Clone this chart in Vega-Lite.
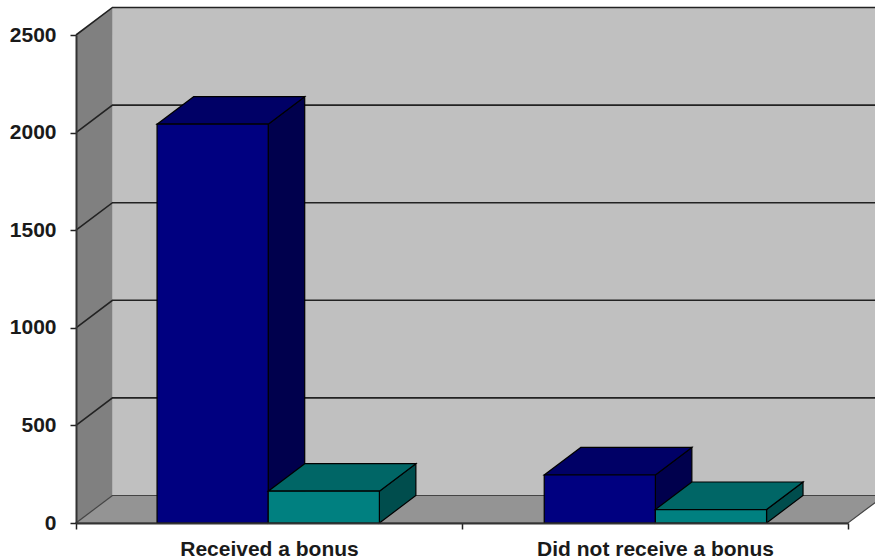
{
"$schema":"https://vega.github.io/schema/vega-lite/v6.json",
"width":772,"height":488,
"autosize":{"type":"none"},
"padding":{"left":76,"top":35,"right":27,"bottom":37},
"background":"#ffffff",
"config":{"view":{"stroke":null},"font":"Liberation Sans"},
"layer":[
{"data":{"values":[{"a":0.0945,"b":2.0945,"lo":141,"hi":2641}]},
 "mark":{"type":"rect","fill":"#c0c0c0"},
 "encoding":{
  "x":{"field":"a","type":"quantitative","scale":{"domain":[0,2]},
   "axis":{"title":null,"values":[0,0.5,1,1.5,2],"grid":false,"zindex":1,
    "labelExpr":"datum.value==0.5?'Received a bonus':datum.value==1.5?'Did not receive a bonus':''",
    "labelFont":"Liberation Sans","labelFontSize":21,"labelFontWeight":"bold","labelColor":"#1a1a1a","labelPadding":9,"labelFlush":false,"labelOverlap":false,"labelBound":false,"labelLimit":400,
    "domainColor":"#333333","domainWidth":2,"tickColor":"#222222","tickSize":6,"tickWidth":1.5,
    "tickOpacity":{"condition":{"test":"datum.value==0.5||datum.value==1.5","value":0},"value":1}}},
  "x2":{"field":"b"},
  "y":{"field":"lo","type":"quantitative","scale":{"domain":[0,2500]},
   "axis":{"title":null,"values":[0,500,1000,1500,2000,2500],"format":"d","grid":false,"zindex":1,
    "labelFont":"Liberation Sans","labelFontSize":21,"labelFontWeight":"bold","labelColor":"#1a1a1a","labelPadding":14,
    "domainColor":"#333333","domainWidth":2,"tickColor":"#222222","tickSize":6,"tickWidth":1.5}},
  "y2":{"field":"hi"}}},
{"data":{"values":[{"g":0,"lo":0,"hi":2500},{"g":0.0945,"lo":141,"hi":2641}]},
 "mark":{"type":"area","fill":"#808080"},
 "encoding":{
  "x":{"field":"g","type":"quantitative","scale":{"domain":[0,2]},"axis":{"title":null}},
  "y":{"field":"lo","type":"quantitative","scale":{"domain":[0,2500]},"axis":{"title":null},"stack":null},
  "y2":{"field":"hi"}}},
{"data":{"values":[{"fy":0,"a":0,"b":2},{"fy":141,"a":0.0945,"b":2.0945}]},
 "mark":{"type":"area","orient":"horizontal","fill":"#949494","stroke":"#444444","strokeWidth":1.2},
 "encoding":{
  "y":{"field":"fy","type":"quantitative","scale":{"domain":[0,2500]},"axis":{"title":null}},
  "x":{"field":"a","type":"quantitative","scale":{"domain":[0,2]},"axis":{"title":null},"stack":null},
  "x2":{"field":"b"}}},
{"data":{"values":[{"t":500},{"t":1000},{"t":1500},{"t":2000},{"t":2500}]},
 "transform":[
  {"calculate":"[0,0.0945,2.0945]","as":"gx"},
  {"calculate":"[datum.t,datum.t+141,datum.t+141]","as":"gy"},
  {"flatten":["gx","gy"]}],
 "mark":{"type":"line","color":"#222222","strokeWidth":1.6},
 "encoding":{
  "x":{"field":"gx","type":"quantitative","scale":{"domain":[0,2]},"axis":{"title":null}},
  "y":{"field":"gy","type":"quantitative","scale":{"domain":[0,2500]},"axis":{"title":null}},
  "detail":{"field":"t"},
  "order":{"field":"gx"}}},
{"data":{"values":[
  {"category":"Received a bonus","series":"Series 1","value":2043},
  {"category":"Received a bonus","series":"Series 2","value":163},
  {"category":"Did not receive a bonus","series":"Series 1","value":246},
  {"category":"Did not receive a bonus","series":"Series 2","value":69}]},
 "transform":[
  {"calculate":"(datum.category=='Received a bonus'?0:1.003)+(datum.series=='Series 1'?0.21:0.498)","as":"x0"},
  {"calculate":"[datum.x0,datum.x0+0.0945]","as":"pa"},
  {"calculate":"[datum.x0+0.288,datum.x0+0.288+0.0945]","as":"pb"},
  {"calculate":"[datum.value,datum.value+141]","as":"pt"},
  {"calculate":"[0,141]","as":"pl"},
  {"flatten":["pa","pb","pt","pl"]}],
 "layer":[
  {"transform":[{"filter":"datum.series=='Series 1'"}],"mark":{"type":"area","fill":"#00004d","stroke":"#000000","strokeWidth":1.2},
   "encoding":{"x":{"field":"pb","type":"quantitative","scale":{"domain":[0,2]},"axis":{"title":null}},
    "y":{"field":"pt","type":"quantitative","scale":{"domain":[0,2500]},"axis":{"title":null},"stack":null},"y2":{"field":"pl"},"detail":{"field":"category"}}},
  {"transform":[{"filter":"datum.series=='Series 1'"}],"mark":{"type":"area","orient":"horizontal","fill":"#000066","stroke":"#000000","strokeWidth":1.2},
   "encoding":{"y":{"field":"pt","type":"quantitative","scale":{"domain":[0,2500]},"axis":{"title":null}},
    "x":{"field":"pa","type":"quantitative","scale":{"domain":[0,2]},"axis":{"title":null},"stack":null},"x2":{"field":"pb"},"detail":{"field":"category"}}},
  {"transform":[{"filter":"datum.series=='Series 1'&&datum.pl==0"}],"mark":{"type":"rect","fill":"#000080","stroke":"#000000","strokeWidth":1.2},
   "encoding":{"x":{"field":"pa","type":"quantitative","scale":{"domain":[0,2]},"axis":{"title":null}},"x2":{"field":"pb"},
    "y":{"field":"pl","type":"quantitative","scale":{"domain":[0,2500]},"axis":{"title":null}},"y2":{"field":"pt"}}},
  {"transform":[{"filter":"datum.series=='Series 2'"}],"mark":{"type":"area","fill":"#004d4d","stroke":"#000000","strokeWidth":1.2},
   "encoding":{"x":{"field":"pb","type":"quantitative","scale":{"domain":[0,2]},"axis":{"title":null}},
    "y":{"field":"pt","type":"quantitative","scale":{"domain":[0,2500]},"axis":{"title":null},"stack":null},"y2":{"field":"pl"},"detail":{"field":"category"}}},
  {"transform":[{"filter":"datum.series=='Series 2'"}],"mark":{"type":"area","orient":"horizontal","fill":"#006666","stroke":"#000000","strokeWidth":1.2},
   "encoding":{"y":{"field":"pt","type":"quantitative","scale":{"domain":[0,2500]},"axis":{"title":null}},
    "x":{"field":"pa","type":"quantitative","scale":{"domain":[0,2]},"axis":{"title":null},"stack":null},"x2":{"field":"pb"},"detail":{"field":"category"}}},
  {"transform":[{"filter":"datum.series=='Series 2'&&datum.pl==0"}],"mark":{"type":"rect","fill":"#008080","stroke":"#000000","strokeWidth":1.2},
   "encoding":{"x":{"field":"pa","type":"quantitative","scale":{"domain":[0,2]},"axis":{"title":null}},"x2":{"field":"pb"},
    "y":{"field":"pl","type":"quantitative","scale":{"domain":[0,2500]},"axis":{"title":null}},"y2":{"field":"pt"}}}
 ]}
]}
